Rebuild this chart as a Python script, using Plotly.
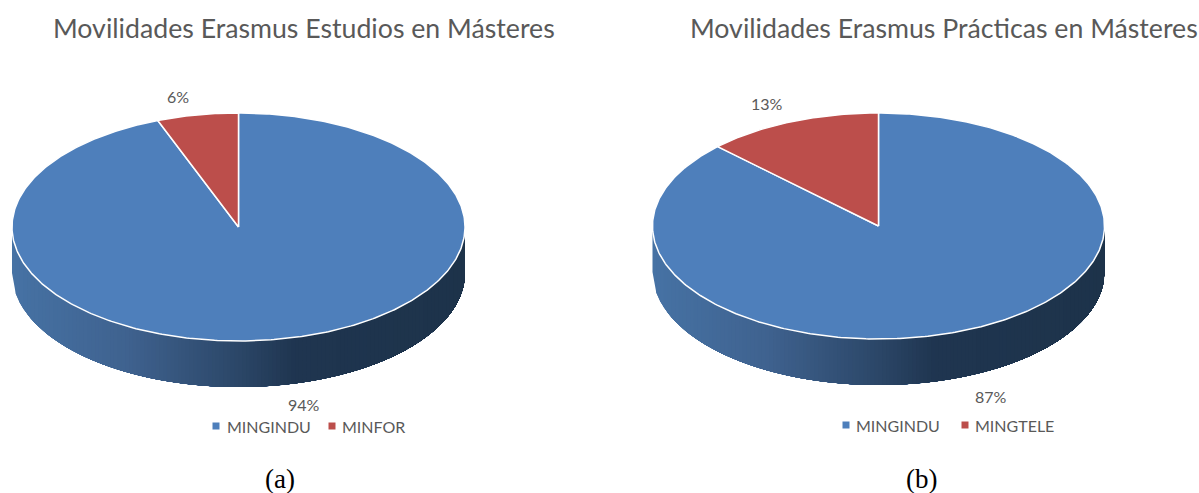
import numpy as np
import plotly.graph_objects as go

# ---- data ----
titles = ["Movilidades Erasmus Estudios en Másteres", "Movilidades Erasmus Prácticas en Másteres"]
captions = ["(a)", "(b)"]
categories_a = ["MINGINDU", "MINFOR"]
values_a = [94.2, 5.8]
labels_a = ["94%", "6%"]
categories_b = ["MINGINDU", "MINGTELE"]
values_b = [87.4, 12.6]
labels_b = ["87%", "13%"]

BLUE = "#4e7fbb"
RED = "#bc4e4b"
TEXT = "#595959"
FONT = "Lato"
WALL_STOPS = [(0.0, (70, 114, 164)), (0.25, (63, 98, 143)), (0.5, (43, 70, 103)),
              (0.62, (31, 53, 80)), (1.0, (29, 51, 74))]


def wall_colour(f):
    xs = [s[0] for s in WALL_STOPS]
    rgb = [np.interp(f, xs, [s[1][i] for s in WALL_STOPS]) for i in range(3)]
    return "rgb(%d,%d,%d)" % tuple(int(round(c)) for c in rgb)


def add_pie(fig, cats, vals, cx, cy, rx, ry, depth):
    # side wall: painted left to right, each layer reaching the right edge, so no seams show
    for x0 in np.linspace(cx - rx, cx + rx, 121)[:-1]:
        xs = np.linspace(x0, cx + rx, 120)
        top = cy + ry * np.sqrt(np.clip(1 - ((xs - cx) / rx) ** 2, 0, 1))
        px = np.concatenate([xs, xs[::-1], xs[:1]])
        py = np.concatenate([top, (top + depth)[::-1], top[:1]])
        c = wall_colour((x0 - cx + rx) / (2 * rx))
        fig.add_trace(go.Scatter(x=px, y=py, mode="lines", fill="toself", fillcolor=c,
                                 line=dict(width=0), hoverinfo="skip", showlegend=False))
    # top face: slices clockwise from 12 o'clock, sized from the values
    total = sum(vals)
    start = 0.0
    for cat, v, col in zip(cats, vals, [BLUE, RED]):
        end = start + v / total * 2 * np.pi
        th = np.linspace(start, end, max(int((end - start) * 80), 8))
        px = np.concatenate([[cx], cx + rx * np.sin(th), [cx]])
        py = np.concatenate([[cy], cy - ry * np.cos(th), [cy]])
        fig.add_trace(go.Scatter(x=px, y=py, mode="lines", fill="toself", fillcolor=col,
                                 line=dict(color="white", width=1.5), name=cat,
                                 hovertemplate=f"{cat}: {v}%<extra></extra>", showlegend=False))
        start = end


def add_key(fig, cats, marker_xs, text_xs, y):
    # legend row: square swatch with its name to the right
    for cat, x, tx, col in zip(cats, marker_xs, text_xs, [BLUE, RED]):
        fig.add_trace(go.Scatter(x=[x], y=[y], mode="markers", name=cat, hoverinfo="skip",
                                 showlegend=False, marker=dict(symbol="square", size=7, color=col)))
        fig.add_annotation(x=tx, y=y, text=cat, showarrow=False, xanchor="left", yanchor="middle",
                           font=dict(size=16, color=TEXT, family=FONT))


fig = go.Figure()
add_pie(fig, categories_a, values_a, 238.5, 227, 226.5, 114, 46)
add_pie(fig, categories_b, values_b, 878.5, 226, 226, 113, 46)
add_key(fig, categories_a, [216, 332], [225, 340], 426)
add_key(fig, categories_b, [846, 965], [854, 973], 425)


def note(x, y, text, size=16, color=TEXT, family=FONT):
    fig.add_annotation(x=x, y=y, text=text, showarrow=False, xanchor="center", yanchor="middle",
                       font=dict(size=size, color=color, family=family))


note(304, 28, titles[0], size=26.7)
note(943.5, 28, titles[1], size=26.7)
note(304, 404, labels_a[0])
note(178, 96, labels_a[1])
note(991, 396, labels_b[0])
note(767, 103, labels_b[1])
note(280, 479, captions[0], size=27, color="black", family="Liberation Serif")
note(921, 479, captions[1], size=27, color="black", family="Liberation Serif")

fig.update_layout(
    width=1199, height=493, margin=dict(l=0, r=0, t=0, b=0), showlegend=False,
    paper_bgcolor="white", plot_bgcolor="white",
    xaxis=dict(range=[0, 1199], visible=False, fixedrange=True),
    yaxis=dict(range=[493, 0], visible=False, fixedrange=True),
)

fig.write_html("out.html", config=dict(displayModeBar=False),
               post_script="document.body.style.margin='0';")
